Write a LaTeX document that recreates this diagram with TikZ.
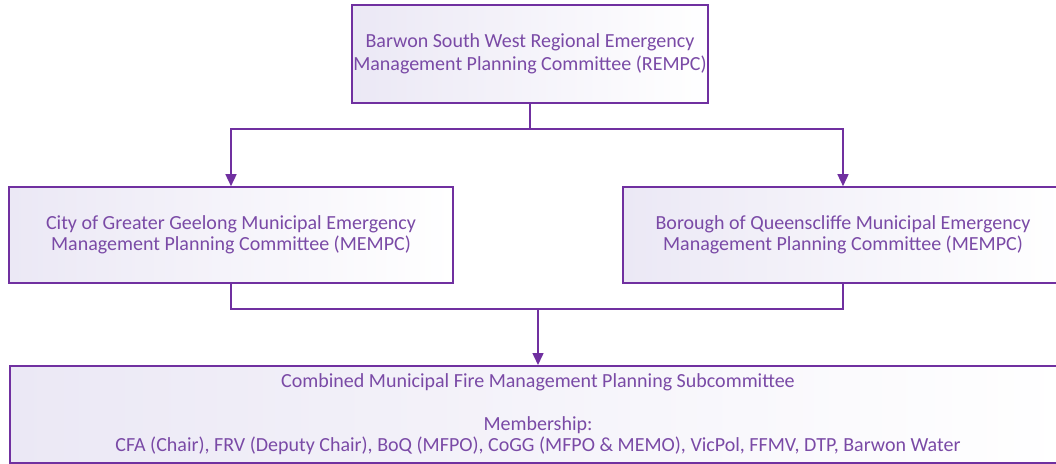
\documentclass[tikz,border=0pt]{standalone}
\usepackage{fontspec}
\setmainfont{Carlito}
\usetikzlibrary{arrows.meta,calc}
\definecolor{plum}{HTML}{7030A0}
\definecolor{plumtext}{HTML}{7A4AA6}
\definecolor{lavender}{HTML}{EBE8F5}

\tikzset{
  panel/.style={draw=plum,line width=1.6pt,left color=lavender,right color=white,
    text=plumtext,align=center,inner sep=0pt,font=\fontsize{20}{21.5}\selectfont},
  wire/.style={draw=plum,line width=1.5pt},
  link/.style={wire,-{Triangle[width=11pt,length=12pt]}},
}

\begin{document}
\begin{tikzpicture}[x=1pt,y=-1pt]
\clip (0,0) rectangle (1056,463);
% committees
\node[panel,minimum width=356pt,minimum height=98pt,font=\fontsize{20}{22.5}\selectfont] (rempc) at (530,54)
  {Barwon South West Regional Emergency\\Management Planning Committee (REMPC)};
\node[panel,minimum width=444pt,minimum height=96pt] (geelong) at (231,235)
  {City of Greater Geelong Municipal Emergency\\Management Planning Committee (MEMPC)};
\node[panel,minimum width=440pt,minimum height=96pt] (queens) at (843,235)
  {Borough of Queenscliffe Municipal Emergency\\Management Planning Committee (MEMPC)};
\node[panel,minimum width=1056pt,minimum height=97pt,anchor=north] (subcom) at (538,365)
  {Combined Municipal Fire Management Planning Subcommittee\\[21.5pt]Membership:\\
   CFA (Chair), FRV (Deputy Chair), BoQ (MFPO), CoGG (MFPO \& MEMO), VicPol, FFMV, DTP, Barwon Water};
% connectors
\draw[link] (rempc.south) -- ++(0,25) -| (geelong.north);
\draw[link] (rempc.south) -- ++(0,25) -| (queens.north);
\coordinate (bus) at ($(geelong.south)+(0,25)$);
\draw[wire] (geelong.south) -- (bus) -| (queens.south);
\draw[link] (subcom.north |- bus) -- (subcom.north);
\end{tikzpicture}
\end{document}
